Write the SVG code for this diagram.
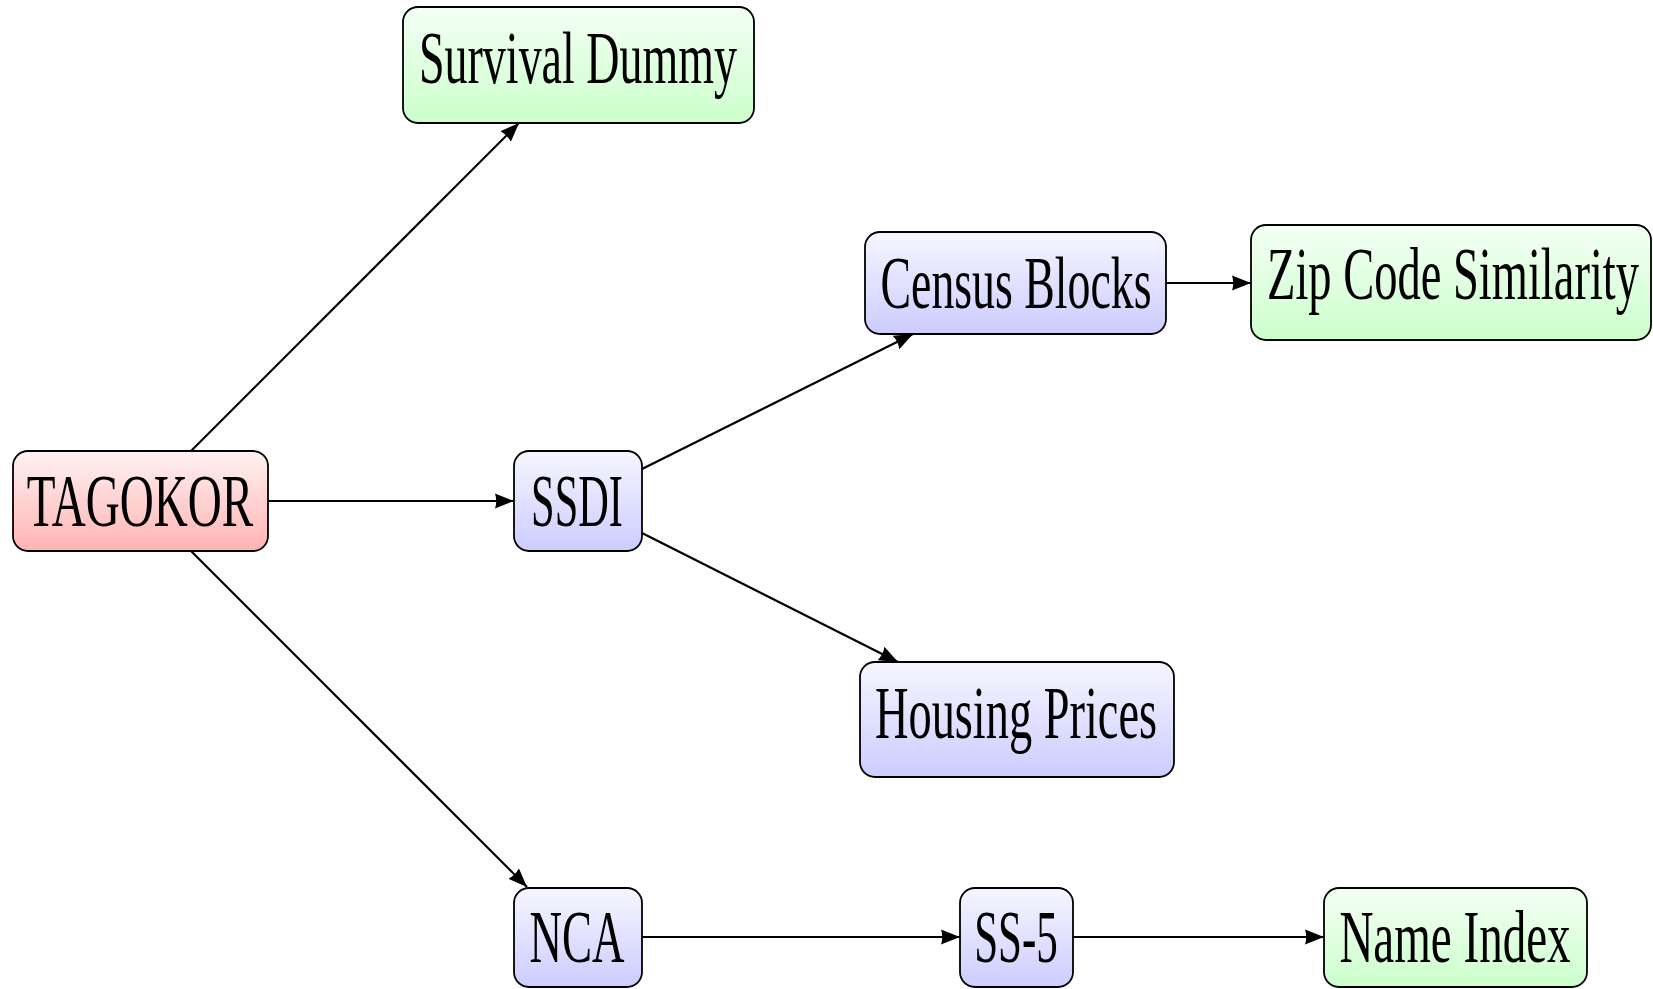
<svg xmlns="http://www.w3.org/2000/svg" width="1653" height="989" viewBox="0 0 1653 989">
<defs>
<linearGradient id="gRed" x1="0" y1="0" x2="0" y2="1"><stop offset="0" stop-color="#fff2f2"/><stop offset="1" stop-color="#ffb3b3"/></linearGradient>
<linearGradient id="gBlue" x1="0" y1="0" x2="0" y2="1"><stop offset="0" stop-color="#f6f6ff"/><stop offset="1" stop-color="#ccccff"/></linearGradient>
<linearGradient id="gGreen" x1="0" y1="0" x2="0" y2="1"><stop offset="0" stop-color="#f4fff4"/><stop offset="1" stop-color="#ccffcc"/></linearGradient>
<marker id="arr" markerUnits="userSpaceOnUse" markerWidth="20" markerHeight="18" viewBox="0 0 20 18" refX="19" refY="9" orient="auto">
<path d="M0,1.5 L19,9 L0,16.5 Q2.5,9 0,1.5 z" fill="#000"/>
</marker>
<style>
.box{stroke:#000;stroke-width:1.8}
.red{fill:url(#gRed)}
.blue{fill:url(#gBlue)}
.green{fill:url(#gGreen)}
.lbl{font-family:"Liberation Serif","DejaVu Serif",serif;font-size:75px;fill:#000;text-anchor:middle}
.edge{stroke:#000;stroke-width:2.2;fill:none;marker-end:url(#arr)}
</style>
</defs>
<rect width="1653" height="989" fill="#fff"/>
<g id="edges">
<line class="edge" x1="191" y1="451" x2="519" y2="123"/>
<line class="edge" x1="268" y1="501" x2="514" y2="501"/>
<line class="edge" x1="191" y1="551" x2="527" y2="887"/>
<line class="edge" x1="642" y1="469" x2="913" y2="334"/>
<line class="edge" x1="642" y1="533" x2="898" y2="662"/>
<line class="edge" x1="1166" y1="283" x2="1251" y2="283"/>
<line class="edge" x1="642" y1="937" x2="960" y2="937"/>
<line class="edge" x1="1073" y1="937" x2="1324" y2="937"/>
</g>
<g id="survival">
<rect class="box green" x="403" y="7" width="351" height="116" rx="15"/>
<text class="lbl" transform="translate(578 83) scale(0.62 1)" textLength="513" lengthAdjust="spacingAndGlyphs">Survival Dummy</text>
</g>
<g id="tagokor">
<rect class="box red" x="13" y="451" width="255" height="100" rx="15"/>
<text class="lbl" transform="translate(140 526) scale(0.62 1)" textLength="365" lengthAdjust="spacingAndGlyphs">TAGOKOR</text>
</g>
<g id="ssdi">
<rect class="box blue" x="514" y="451" width="128" height="100" rx="15"/>
<text class="lbl" transform="translate(577 526) scale(0.62 1)" textLength="148" lengthAdjust="spacingAndGlyphs">SSDI</text>
</g>
<g id="census">
<rect class="box blue" x="865" y="232" width="301" height="102" rx="15"/>
<text class="lbl" transform="translate(1016 308) scale(0.62 1)" textLength="437" lengthAdjust="spacingAndGlyphs">Census Blocks</text>
</g>
<g id="zip">
<rect class="box green" x="1251" y="225" width="400" height="115" rx="15"/>
<text class="lbl" transform="translate(1453 299) scale(0.62 1)" textLength="600" lengthAdjust="spacingAndGlyphs">Zip Code Similarity</text>
</g>
<g id="housing">
<rect class="box blue" x="860" y="662" width="314" height="115" rx="15"/>
<text class="lbl" transform="translate(1016 738) scale(0.62 1)" textLength="455" lengthAdjust="spacingAndGlyphs">Housing Prices</text>
</g>
<g id="nca">
<rect class="box blue" x="514" y="888" width="128" height="99" rx="15"/>
<text class="lbl" transform="translate(577 962) scale(0.62 1)" textLength="153" lengthAdjust="spacingAndGlyphs">NCA</text>
</g>
<g id="ss5">
<rect class="box blue" x="960" y="888" width="113" height="99" rx="15"/>
<text class="lbl" transform="translate(1016 962) scale(0.62 1)" textLength="135" lengthAdjust="spacingAndGlyphs">SS-5</text>
</g>
<g id="nameindex">
<rect class="box green" x="1324" y="888" width="263" height="99" rx="15"/>
<text class="lbl" transform="translate(1455 962) scale(0.62 1)" textLength="373" lengthAdjust="spacingAndGlyphs">Name Index</text>
</g>
</svg>
